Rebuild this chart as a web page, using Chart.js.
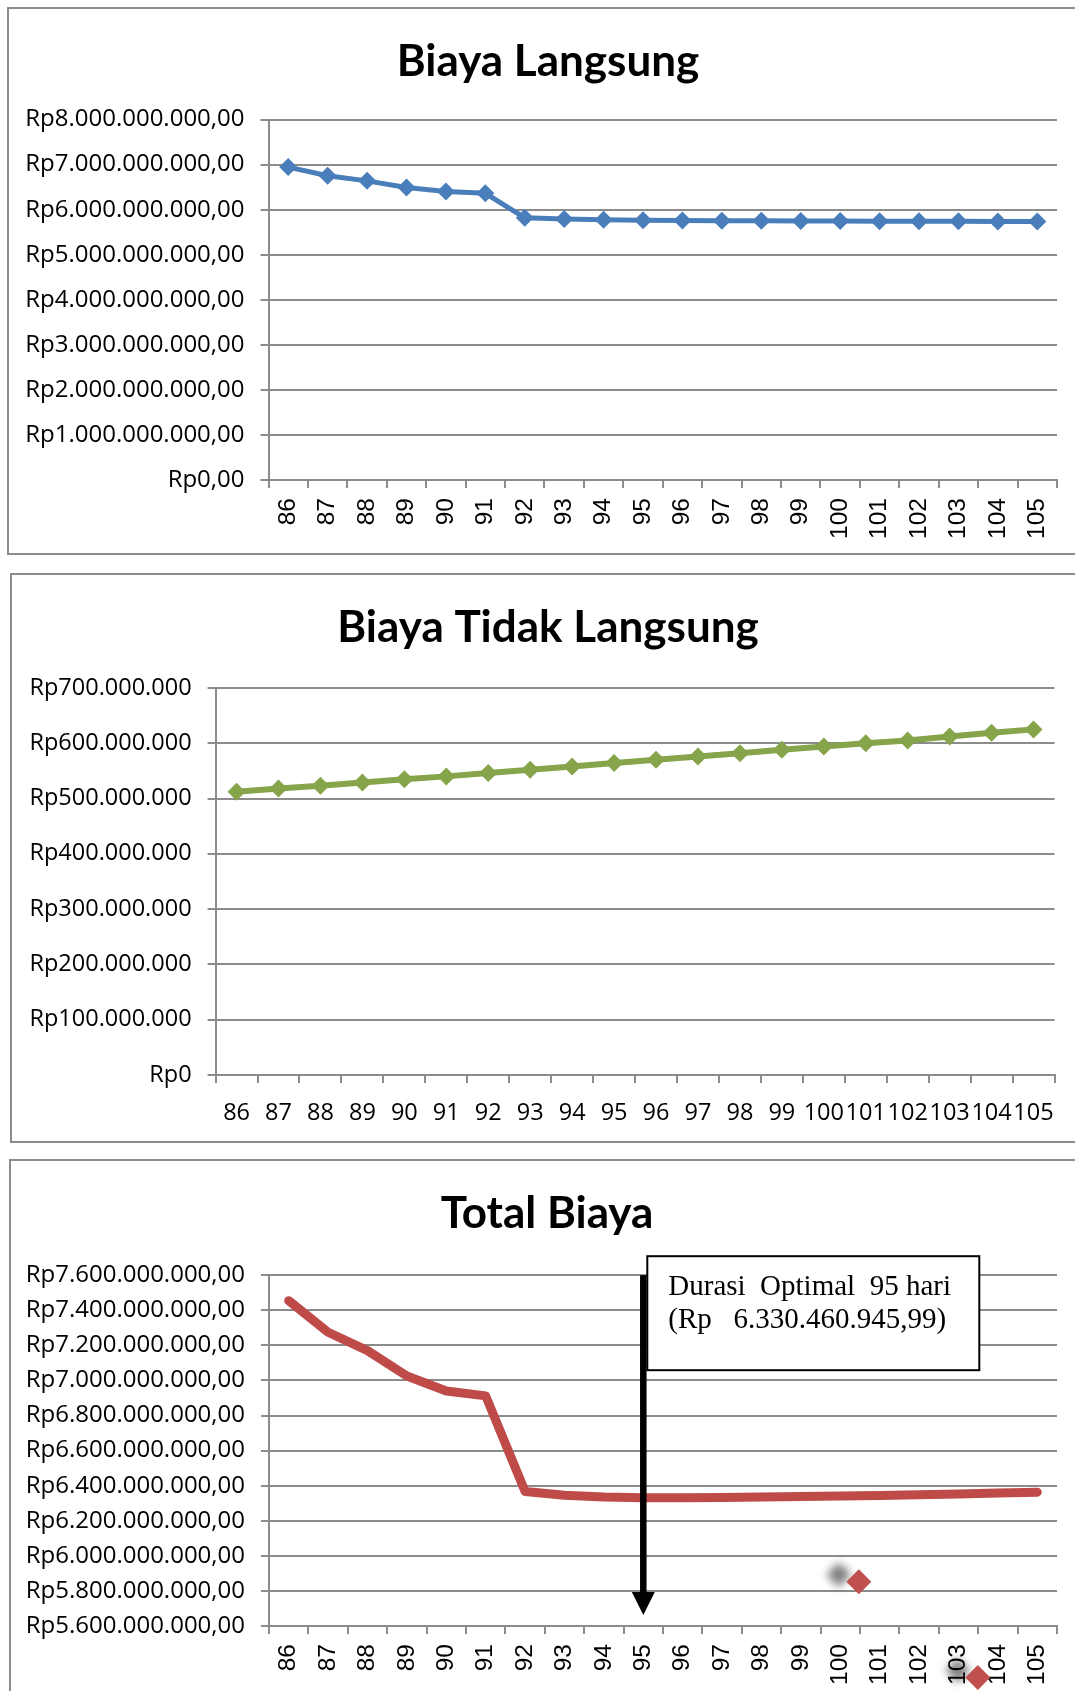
<!DOCTYPE html>
<html>
<head>
<meta charset="utf-8">
<script src="https://cdn.jsdelivr.net/npm/chart.js@4.4.1/dist/chart.umd.min.js"></script>
<style>
    body { margin: 0; background: #ffffff; width: 1075px; height: 1691px; overflow: hidden; position: relative; }
    .panel { position: absolute; border: 2px solid #8c8c8c; background: #ffffff; }
    .panel canvas { display: block; }
</style>
</head>
<body>
<div class="panel" style="left:7px;top:7px;width:1100px;height:544px">
    <canvas id="langsungChart" width="1078" height="544"></canvas>
</div>
<div class="panel" style="left:10px;top:573px;width:1100px;height:566px">
    <canvas id="tidakLangsungChart" width="1072" height="566"></canvas>
</div>
<div class="panel" style="left:9px;top:1159px;width:1100px;height:560px">
    <canvas id="totalChart" width="1072" height="540"></canvas>
</div>
<script>
const days = ["86", "87", "88", "89", "90", "91", "92", "93", "94", "95",
    "96", "97", "98", "99", "100", "101", "102", "103", "104", "105"];

const biayaLangsung = [6.946e9, 6.755e9, 6.640e9, 6.495e9, 6.405e9, 6.365e9, 5.821e9, 5.793e9, 5.777e9, 5.767e9,
    5.761e9, 5.757e9, 5.753e9, 5.750e9, 5.747e9, 5.745e9, 5.743e9, 5.741e9, 5.739e9, 5.738e9];

const biayaTidakLangsung = [512e6, 518e6, 523e6, 529e6, 535e6, 540e6, 546e6, 552e6, 558e6, 564e6,
    570e6, 576e6, 582e6, 588e6, 594e6, 600e6, 605e6, 612e6, 619e6, 625e6];

const totalBiaya = [7.455e9, 7.275e9, 7.170e9, 7.025e9, 6.940e9, 6.912e9, 6.367e9, 6.345e9, 6.335e9, 6.331e9,
    6.331e9, 6.333e9, 6.335e9, 6.338e9, 6.341e9, 6.344e9, 6.348e9, 6.353e9, 6.358e9, 6.363e9];

// stray red markers left in the original sheet (day position, value)
const strayMarkers = [{ x: 100.47, y: 5.852e9 }, { x: 103.49, y: 5.306e9 }];

const optimalDay = "95";
const optimalText = ["Durasi  Optimal  95 hari", "(Rp   6.330.460.945,99)"];
const arrowTipValue = 5.6625e9;

function rupiah(value, withCents) {
    const s = Math.round(value).toString().replace(/\B(?=(\d{3})+(?!\d))/g, ".");
    return "Rp" + s + (withCents ? ",00" : "");
}

const gridGray = "#8c8c8c";

function xAxis(height, rotated, font, padding) {
    return {
        offset: true,
        afterFit: function (scale) { scale.height = height; },
        grid: { offset: true, drawOnChartArea: false, color: gridGray, lineWidth: 2, tickLength: 8 },
        border: { color: gridGray, width: 2 },
        ticks: {
            autoSkip: false,
            minRotation: rotated ? 90 : 0,
            maxRotation: rotated ? 90 : 0,
            padding: padding,
            color: "#000000",
            font: font
        }
    };
}

function yAxis(width, min, max, step, withCents, size) {
    return {
        min: min,
        max: max,
        afterFit: function (scale) { scale.width = width; },
        grid: { color: gridGray, lineWidth: 2, tickLength: 8 },
        border: { color: gridGray, width: 2 },
        ticks: {
            stepSize: step,
            padding: 16,
            color: "#000000",
            font: { family: "'Open Sans'", size: size },
            callback: function (value) { return rupiah(value, withCents); }
        }
    };
}

// empty right-hand axis, only used to keep the plot narrower than the title
function spacerAxis(width) {
    return {
        type: "linear",
        position: "right",
        afterFit: function (scale) { scale.width = width; },
        grid: { display: false },
        border: { display: false },
        ticks: { display: false }
    };
}

function titleOptions(text, bottom) {
    return {
        display: true,
        text: text,
        color: "#000000",
        font: { family: "Lato", weight: "bold", size: 44, lineHeight: 1.2 },
        padding: { top: 26.6, bottom: bottom }
    };
}

const strayDiamonds = {
    id: "strayDiamonds",
    afterDatasetsDraw(chart) {
        const ctx = chart.ctx;
        const xs = chart.scales.x2;
        const ys = chart.scales.y;
        ctx.save();
        ctx.fillStyle = "#C0504D";
        ctx.shadowColor = "rgba(0,0,0,0.5)";
        ctx.shadowBlur = 9;
        ctx.shadowOffsetX = -20;
        ctx.shadowOffsetY = -7;
        strayMarkers.forEach(function (m) {
            const x = xs.getPixelForValue(m.x);
            const y = ys.getPixelForValue(m.y);
            const r = 12.5;
            ctx.beginPath();
            ctx.moveTo(x, y - r);
            ctx.lineTo(x + r, y);
            ctx.lineTo(x, y + r);
            ctx.lineTo(x - r, y);
            ctx.closePath();
            ctx.fill();
        });
        ctx.restore();
    }
};

const optimalArrow = {
    id: "optimalArrow",
    afterDraw(chart) {
        const ctx = chart.ctx;
        const x = chart.scales.x.getPixelForValue(days.indexOf(optimalDay));
        const yTop = chart.chartArea.top;
        const yTip = chart.scales.y.getPixelForValue(arrowTipValue);
        ctx.save();
        ctx.fillStyle = "#000000";
        ctx.fillRect(x - 3.25, yTop, 6.5, yTip - yTop - 20);
        ctx.beginPath();
        ctx.moveTo(x - 11.5, yTip - 23);
        ctx.lineTo(x + 11.5, yTip - 23);
        ctx.lineTo(x, yTip);
        ctx.closePath();
        ctx.fill();

        const left = x + 4;
        const top = yTop - 19;
        ctx.fillStyle = "#ffffff";
        ctx.fillRect(left, top, 332, 114);
        ctx.strokeStyle = "#000000";
        ctx.lineWidth = 2;
        ctx.strokeRect(left, top, 332, 114);
        ctx.fillStyle = "#000000";
        ctx.font = "29px 'Liberation Serif'";
        ctx.textBaseline = "alphabetic";
        ctx.fillText(optimalText[0], left + 21, top + 39);
        ctx.fillText(optimalText[1], left + 21, top + 72);
        ctx.restore();
    }
};

document.addEventListener("DOMContentLoaded", function () {
    if (!window.Chart) return;
    Chart.defaults.font.family = "'Open Sans'";
    Chart.defaults.color = "#000000";
    const rotatedFont = { family: "'Liberation Sans'", size: 24.5 };

    new Chart(document.getElementById("langsungChart").getContext("2d"), {
        type: "line",
        data: {
            labels: days,
            datasets: [
                {
                    data: biayaLangsung,
                    borderColor: "#4A7EBB",
                    backgroundColor: "#4A7EBB",
                    borderWidth: 5,
                    pointStyle: "rectRot",
                    pointRadius: 9,
                    pointBorderWidth: 0,
                    tension: 0
                }
            ]
        },
        options: {
            responsive: false,
            animation: false,
            layout: { padding: 0 },
            scales: {
                x: xAxis(73, true, rotatedFont, 10),
                y: yAxis(259.5, 0, 8e9, 1e9, true, 24),
                yRight: spacerAxis(30)
            },
            plugins: {
                legend: { display: false },
                tooltip: { enabled: false },
                title: titleOptions("Biaya Langsung", 31.2)
            }
        }
    });

    new Chart(document.getElementById("tidakLangsungChart").getContext("2d"), {
        type: "line",
        data: {
            labels: days,
            datasets: [
                {
                    data: biayaTidakLangsung,
                    borderColor: "#86A44A",
                    backgroundColor: "#86A44A",
                    borderWidth: 6,
                    pointStyle: "rectRot",
                    pointRadius: 9,
                    pointBorderWidth: 0,
                    tension: 0
                }
            ]
        },
        options: {
            responsive: false,
            animation: false,
            layout: { padding: 0 },
            scales: {
                x: xAxis(66, false, { family: "'Open Sans'", size: 23.5 }, 16),
                y: yAxis(203.6, 0, 7e8, 1e8, false, 23.5),
                yRight: spacerAxis(29.5)
            },
            plugins: {
                legend: { display: false },
                tooltip: { enabled: false },
                title: titleOptions("Biaya Tidak Langsung", 33.5)
            }
        }
    });

    new Chart(document.getElementById("totalChart").getContext("2d"), {
        type: "line",
        data: {
            labels: days,
            datasets: [
                {
                    data: totalBiaya,
                    borderColor: "#BE4B48",
                    borderWidth: 9,
                    borderJoinStyle: "round",
                    borderCapStyle: "round",
                    pointRadius: 0,
                    tension: 0
                }
            ]
        },
        options: {
            responsive: false,
            animation: false,
            layout: { padding: 0 },
            scales: {
                x: xAxis(75, true, rotatedFont, 10),
                x2: { type: "linear", display: false, min: 85.5, max: 105.5 },
                y: yAxis(258, 5.6e9, 7.6e9, 2e8, true, 24),
                yRight: spacerAxis(26)
            },
            plugins: {
                legend: { display: false },
                tooltip: { enabled: false },
                title: titleOptions("Total Biaya", 34.8)
            }
        },
        plugins: [strayDiamonds, optimalArrow]
    });
});
</script>
</body>
</html>
